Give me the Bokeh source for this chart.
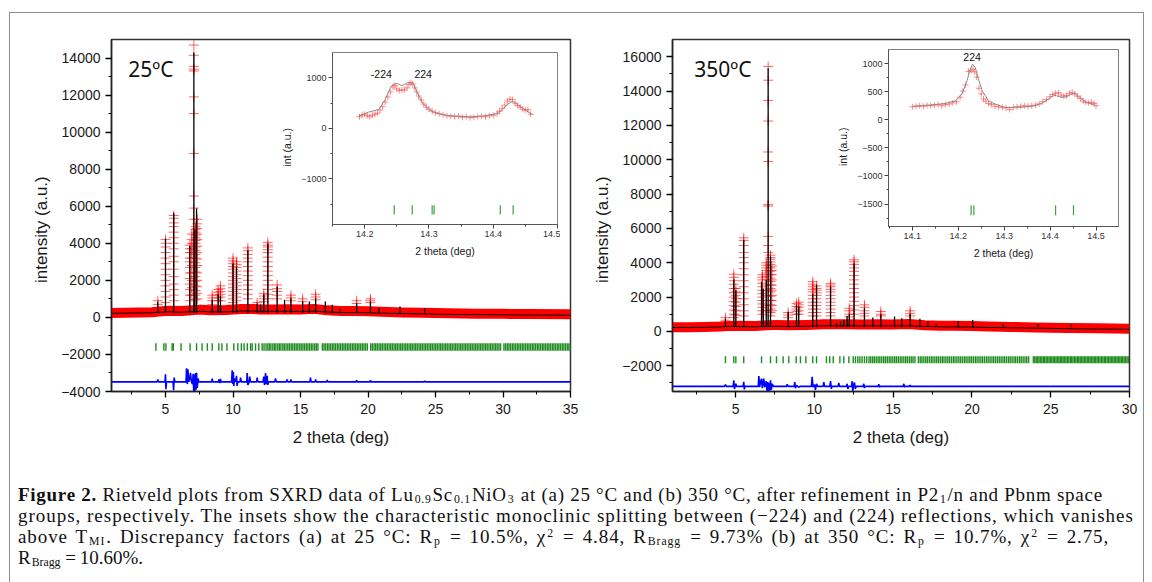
from bokeh.plotting import figure
from bokeh.models import Range1d, FixedTicker, Div, Row, Column
from bokeh.embed import file_html
from bokeh.resources import INLINE
from bokeh.core.properties import value

# ======================= panel (a) 25 ºC =======================
a_label = "25ºC"
a_bg_x = [1, 2, 3, 4, 4.5, 5.3, 6.2, 7.6, 8.3, 9.5, 10.6, 11.5, 12.0, 13.0, 14.0, 15.0, 16.0,
          17.0, 18.0, 19.0, 20.0, 21.0, 22.5, 24, 26, 28, 30, 32, 35]
a_calc_bg = [220, 230, 240, 250, 280, 300, 280, 330, 300, 300, 340, 340, 330, 330, 330, 320, 340,
             290, 260, 260, 250, 230, 210, 190, 160, 150, 140, 130, 120]
a_obs_bg = [240, 250, 260, 280, 320, 360, 340, 420, 380, 400, 450, 450, 430, 420, 440, 420, 460,
            380, 340, 340, 330, 300, 270, 250, 220, 200, 190, 180, 170]
# (position, calculated peak height)
a_peaks = [(4.43, 840), (5.00, 4260), (5.61, 5650), (6.80, 3850), (7.10, 14300), (7.16, 4730),
           (7.30, 5880), (8.46, 950), (8.90, 1250), (9.07, 1160), (10.00, 2910), (10.26, 2740),
           (11.10, 3630), (11.79, 750), (12.04, 700), (12.28, 1250), (12.58, 3990), (13.27, 1650),
           (13.82, 950), (14.29, 1040), (15.16, 860), (15.66, 860), (16.12, 1040), (16.84, 860),
           (17.36, 680), (17.93, 500), (19.16, 770), (20.18, 860), (20.80, 500), (22.37, 590),
           (24.20, 500)]
# observed points (crosses) read along the peaks
a_obs_peaks = [
    (4.43, [900, 700]),
    (5.00, [4200, 4000, 3800, 3500, 3200, 2900, 2600, 2300, 2000, 1700, 1400, 1100, 800]),
    (5.61, [5500, 5350, 5100, 4900, 4600, 4300, 4000, 3700, 3300, 3000, 2600, 2200, 1800, 1500,
            1200, 900]),
    (6.80, [3900, 3700, 3500, 3200, 3000, 2700, 2400, 2100, 1800, 1500, 1200, 900]),
    (6.95, [4500, 4200, 4000, 3700, 3500, 3200, 2800, 2400, 2000, 1600, 1200]),
    (7.10, [14700, 14150, 13550, 13400, 13300, 11900, 11000, 8850, 6550, 5900, 5300]),
    (7.22, [4900, 4750, 4600, 4450, 4300, 4150, 4000, 3800, 3600, 3400, 3200, 2950, 2700, 2450,
            2200, 1950, 1700, 1450, 1200, 950]),
    (7.35, [5300, 5050, 4800, 4500, 4200, 3850, 3500, 3150, 2800, 2400, 2000, 1650, 1300, 1000]),
    (8.46, [1200, 1050, 900, 700]),
    (8.90, [1500, 1350, 1200, 1050, 900]),
    (9.07, [1700, 1550, 1400, 1250, 1100, 900]),
    (10.00, [3200, 3050, 2900, 2750, 2600, 2400, 2200, 2000, 1800, 1600, 1400, 1200, 1000, 800]),
    (10.26, [3000, 2850, 2700, 2500, 2300, 2100, 1900, 1700, 1500, 1300, 1100, 900]),
    (11.10, [3750, 3600, 3400, 3200, 3000, 2750, 2500, 2250, 2000, 1750, 1500, 1250, 1000]),
    (11.79, [800, 650]),
    (12.28, [1300, 1150, 1000, 850]),
    (12.58, [4050, 3900, 3800, 3650, 3500, 3250, 3000, 2750, 2500, 2250, 2000, 1750, 1500, 1250,
             1000]),
    (13.27, [1750, 1550, 1400, 1200, 1000]),
    (14.29, [1200, 1050, 900]),
    (15.16, [1000, 850]),
    (16.12, [1250, 1100, 950]),
    (19.16, [900, 750]),
    (20.18, [1000, 900, 800]),
]
a_bragg = [4.29, 4.88, 5.03, 5.49, 5.58, 6.15, 6.82, 7.30, 7.71, 8.10, 8.46, 8.95, 9.18, 9.55,
           10.06, 10.36, 10.62, 10.82, 11.06, 11.30, 11.42, 11.67, 11.91, 12.16, 12.30,
           12.45, 12.58, 12.70, 12.81, 12.95, 13.07, 13.18, 13.32, 13.44, 13.55, 13.69, 13.80,
           13.93, 14.06, 14.18, 14.31, 14.43, 14.56, 14.68, 14.80, 14.93, 15.05, 15.18, 15.30,
           15.43, 15.55, 15.67, 15.80, 15.92, 16.05, 16.17, 16.29, 16.62, 16.74, 16.86, 16.99,
           17.11, 17.23, 17.36, 17.48, 17.60, 17.73, 17.85, 17.97, 18.10, 18.22, 18.34, 18.47,
           18.59, 18.71, 18.84, 18.96, 19.08, 19.21, 19.33, 19.45, 19.58, 19.70, 19.82, 19.95,
           20.20, 20.32, 20.45, 20.57, 20.69, 20.82, 20.94, 21.06, 21.19, 21.31, 21.43, 21.56,
           21.68, 21.80, 21.93, 22.05, 22.17, 22.30, 22.42, 22.54, 22.67, 22.79, 22.91, 23.04,
           23.16, 23.28, 23.41, 23.53, 23.65, 23.78, 23.90, 24.02, 24.15, 24.27, 24.39, 24.52,
           24.64, 24.76, 24.89, 25.01, 25.13, 25.26, 25.38, 25.50, 25.63, 25.75, 25.87, 26.00,
           26.12, 26.24, 26.37, 26.49, 26.61, 26.74, 26.86, 26.98, 27.11, 27.23, 27.35, 27.48,
           27.60, 27.72, 27.85, 27.97, 28.09, 28.22, 28.34, 28.46, 28.59, 28.71, 28.83, 28.96,
           29.08, 29.20, 29.33, 29.45, 29.57, 29.70, 29.82, 30.07, 30.19, 30.32, 30.44, 30.56,
           30.69, 30.81, 30.93, 31.06, 31.18, 31.30, 31.43, 31.55, 31.67, 31.80, 31.92, 32.04,
           32.17, 32.29, 32.41, 32.54, 32.66, 32.78, 32.91, 33.03, 33.15, 33.28, 33.40, 33.52,
           33.65, 33.77, 33.89, 34.02, 34.14, 34.26, 34.39, 34.51, 34.63, 34.76, 34.88, 34.99]
a_diff = [(1.0, -3480), (4.38, -3480), (4.43, -3350), (4.48, -3480), (4.96, -3480), (5.00, -3070),
          (5.03, -3880), (5.07, -3480), (5.56, -3480), (5.60, -3930), (5.64, -3250), (5.70, -3480),
          (6.52, -3480), (6.56, -2750), (6.62, -3600), (6.66, -2800), (6.72, -3480), (6.80, -3300),
          (6.85, -2990), (6.92, -3480), (7.00, -3600), (7.05, -3050), (7.09, -4000), (7.12, -3100),
          (7.17, -4000), (7.22, -3000), (7.27, -3900), (7.30, -2990), (7.35, -3800), (7.42, -3300),
          (7.47, -3480), (7.55, -3480), (8.42, -3480), (8.46, -3300), (8.50, -3480), (8.92, -3480),
          (8.95, -3350), (9.02, -3550), (9.07, -3320), (9.12, -3480), (9.90, -3480), (9.94, -2860),
          (9.98, -3600), (10.03, -2950), (10.06, -3700), (10.12, -3300), (10.22, -3480),
          (10.26, -3150), (10.30, -3700), (10.36, -3480), (10.52, -3480), (10.56, -3250),
          (10.62, -3480), (11.02, -3480), (11.05, -3010), (11.10, -3650), (11.20, -3480),
          (11.24, -3200), (11.30, -3480), (11.75, -3480), (11.79, -3250), (11.84, -3480),
          (12.22, -3480), (12.28, -3200), (12.33, -3650), (12.38, -3480), (12.41, -3010),
          (12.45, -3600), (12.50, -3480), (12.53, -3150), (12.57, -3650), (12.63, -3480),
          (13.10, -3480), (13.15, -3300), (13.20, -3480), (13.95, -3480), (14.00, -3350),
          (14.05, -3480), (14.25, -3480), (14.29, -3350), (14.33, -3480), (15.70, -3480),
          (15.74, -3250), (15.78, -3480), (16.08, -3480), (16.12, -3350), (16.16, -3480),
          (16.94, -3480), (16.98, -3380), (17.02, -3480), (19.12, -3480), (19.16, -3400),
          (19.20, -3480), (20.14, -3480), (20.18, -3400), (20.22, -3480), (24.16, -3480),
          (24.20, -3420), (24.24, -3480), (35.0, -3480)]

# ======================= panel (b) 350 ºC =======================
b_label = "350ºC"
b_bg_x = [1, 2, 3, 4, 4.5, 5.3, 6.2, 7.6, 8.3, 9.5, 10.6, 11.5, 12.0, 13.0, 14.0, 15.0, 16.0,
          17.0, 18.0, 19.0, 20.0, 21.0, 22.5, 24, 26, 28, 30]
b_calc_bg = [230, 230, 240, 260, 290, 280, 270, 300, 280, 300, 330, 330, 330, 320, 330, 320, 330,
             290, 270, 260, 250, 230, 210, 190, 160, 140, 120]
b_obs_bg = [240, 240, 250, 280, 320, 330, 320, 380, 360, 380, 420, 420, 420, 400, 420, 400, 430,
            360, 330, 330, 320, 290, 260, 230, 200, 180, 160]
b_peaks = [(4.36, 746), (4.89, 3020), (5.02, 2400), (5.52, 5340), (6.65, 2890), (6.76, 2500),
           (6.95, 3000), (7.07, 15330), (7.22, 4350), (8.34, 1137), (8.87, 1530), (9.01, 1450),
           (9.90, 2200), (10.14, 2700), (11.03, 2620), (11.41, 480), (11.66, 580), (11.87, 670),
           (12.08, 900), (12.22, 1020), (12.52, 3975), (13.18, 1350), (13.71, 810), (14.22, 1000),
           (15.09, 870), (15.55, 770), (16.08, 1020), (16.70, 730), (17.21, 580), (17.74, 450),
           (19.13, 610), (20.05, 670), (22.00, 450), (24.20, 430), (26.30, 400)]
b_obs_peaks = [
    (4.36, [800, 650]),
    (4.89, [3330, 3150, 2950, 2750, 2500, 2250, 2000, 1750, 1500, 1250, 1000, 800]),
    (5.02, [2500, 2300, 2100, 1900, 1700, 1450, 1200, 950]),
    (5.52, [5450, 5300, 5000, 4600, 4300, 4000, 3650, 3300, 2950, 2600, 2250, 1900, 1550, 1200,
            900]),
    (6.70, [3300, 3150, 3000, 2800, 2600, 2400, 2200, 2000, 1800, 1600, 1400, 1200, 1000]),
    (6.95, [4000, 3850, 3700, 3550, 3400, 3200, 3000, 2700, 2400, 2100, 1800, 1500, 1200]),
    (7.07, [15425, 14630, 13450, 12250, 10450, 9900, 7380, 7300, 5530, 5000, 4600]),
    (7.22, [4440, 4300, 4200, 4050, 3900, 3700, 3500, 3300, 3100, 2900, 2700, 2500, 2300, 2050,
            1800, 1550, 1300, 1100, 900]),
    (7.30, [3800, 3550, 3300, 3000, 2700, 2400, 2100, 1800, 1500, 1200]),
    (8.34, [1100, 950, 800]),
    (8.87, [1620, 1450, 1300, 1150, 1000]),
    (9.01, [1700, 1550, 1400, 1200, 1000]),
    (9.90, [2900, 2750, 2600, 2450, 2300, 2100, 1900, 1700, 1500, 1300, 1100, 900]),
    (10.14, [2650, 2500, 2400, 2250, 2100, 1900, 1700, 1500, 1300, 1100, 900]),
    (11.03, [2800, 2700, 2600, 2450, 2300, 2100, 1900, 1700, 1500, 1300, 1100, 900]),
    (12.22, [1350, 1200, 1000, 850]),
    (12.52, [4170, 4050, 3900, 3700, 3500, 3250, 3000, 2750, 2500, 2250, 2000, 1750, 1500, 1250,
             1000]),
    (13.18, [1545, 1400, 1200, 1050, 900]),
    (14.22, [1160, 1000, 900]),
    (16.08, [1200, 1050, 900]),
]
b_bragg = [4.36, 4.89, 5.02, 5.52, 6.65, 7.22, 7.60, 8.02, 8.38, 8.85, 9.12, 9.46, 9.90, 10.14,
           10.77, 10.98, 11.20, 11.62, 11.87, 12.19, 12.47, 12.61, 12.76, 12.89, 13.03, 13.18,
           13.32, 13.47, 13.58, 13.70, 13.81, 13.93, 14.05, 14.16, 14.28, 14.40, 14.51, 14.63,
           14.75, 14.86, 14.98, 15.10, 15.21, 15.33, 15.45, 15.56, 15.68, 15.80, 15.91, 16.03,
           16.15, 16.26, 16.38, 16.60, 16.72, 16.83, 16.95, 17.07, 17.18, 17.30, 17.42, 17.53,
           17.65, 17.77, 17.88, 18.00, 18.12, 18.23, 18.35, 18.47, 18.58, 18.70, 18.82, 18.93,
           19.05, 19.17, 19.28, 19.40, 19.52, 19.63, 19.75, 19.87, 19.98, 20.10, 20.22, 20.33,
           20.45, 20.57, 20.68, 20.80, 20.92, 21.03, 21.15, 21.27, 21.38, 21.50, 21.62, 21.73,
           21.85, 21.97, 22.08, 22.20, 22.32, 22.43, 22.55, 22.67, 22.78, 22.90, 23.02, 23.13,
           23.25, 23.37, 23.48, 23.60, 23.90, 23.99, 24.08, 24.17, 24.26, 24.35, 24.44, 24.53,
           24.62, 24.71, 24.80, 24.89, 24.98, 25.07, 25.16, 25.25, 25.34, 25.43, 25.52, 25.61,
           25.70, 25.79, 25.88, 25.97, 26.06, 26.15, 26.24, 26.33, 26.42, 26.51, 26.60, 26.69,
           26.78, 26.87, 26.96, 27.05, 27.14, 27.23, 27.32, 27.41, 27.50, 27.59, 27.68, 27.77,
           27.86, 27.95, 28.04, 28.13, 28.22, 28.31, 28.40, 28.49, 28.58, 28.67, 28.76, 28.85,
           28.94, 29.03, 29.12, 29.21, 29.30, 29.39, 29.48, 29.57, 29.66, 29.75, 29.84, 29.93]
b_diff = [(1.0, -3200), (4.30, -3200), (4.36, -3100), (4.42, -3200), (4.85, -3200), (4.89, -2850),
          (4.93, -3350), (4.98, -3200), (5.02, -3050), (5.06, -3200), (5.48, -3200), (5.52, -2940),
          (5.56, -3380), (5.60, -3200), (6.44, -3200), (6.48, -2600), (6.53, -3250), (6.60, -2900),
          (6.65, -2750), (6.70, -3300), (6.79, -2750), (6.85, -3250), (6.95, -2900), (7.00, -3500),
          (7.04, -2950), (7.07, -3500), (7.12, -3000), (7.18, -3450), (7.22, -2850), (7.27, -3400),
          (7.33, -3050), (7.40, -3200), (8.24, -3200), (8.28, -3080), (8.32, -3200), (8.72, -3200),
          (8.76, -2950), (8.80, -3300), (8.87, -3150), (9.01, -3250), (9.10, -3200), (9.82, -3200),
          (9.86, -2650), (9.92, -3250), (10.02, -3100), (10.07, -3400), (10.14, -3050),
          (10.20, -3200), (10.56, -3200), (10.60, -2950), (10.65, -3200), (10.98, -3200),
          (11.03, -2900), (11.08, -3350), (11.12, -3200), (11.51, -3200), (11.55, -3000),
          (11.60, -3200), (12.04, -3200), (12.08, -3050), (12.13, -3350), (12.18, -3200),
          (12.36, -3200), (12.40, -2900), (12.44, -3480), (12.50, -3100), (12.55, -2980),
          (12.60, -3350), (12.66, -3200), (13.10, -3200), (13.14, -3050), (13.18, -3300),
          (13.22, -3200), (14.05, -3200), (14.09, -3070), (14.13, -3250), (14.18, -3200),
          (15.64, -3200), (15.68, -3050), (15.72, -3250), (15.76, -3200), (16.04, -3200),
          (16.08, -3120), (16.12, -3200), (30.0, -3200)]

# ======================= insets =======================
ia_calc_x = [14.191, 14.206, 14.222, 14.232, 14.240, 14.245, 14.251, 14.258, 14.266, 14.271,
             14.276, 14.282, 14.290, 14.300, 14.310, 14.326, 14.342, 14.363, 14.383, 14.404,
             14.415, 14.422, 14.430, 14.438, 14.448, 14.461]
ia_calc_y = [242, 321, 374, 570, 799, 877, 885, 845, 897, 917, 877, 700, 504, 374, 307, 262, 242,
             229, 242, 288, 374, 472, 537, 472, 374, 276]
ia_obs = [(14.192, 230), (14.196, 260), (14.200, 280), (14.204, 250), (14.208, 230), (14.212, 260),
          (14.216, 280), (14.220, 300), (14.224, 360), (14.228, 430), (14.232, 520), (14.236, 620),
          (14.240, 720), (14.244, 820), (14.247, 850), (14.250, 780), (14.254, 750), (14.258, 760),
          (14.262, 760), (14.266, 800), (14.269, 870), (14.272, 900), (14.275, 880), (14.278, 800),
          (14.281, 720), (14.284, 640), (14.288, 560), (14.292, 480), (14.296, 420), (14.300, 380),
          (14.305, 340), (14.310, 310), (14.316, 290), (14.322, 270), (14.328, 250), (14.334, 240),
          (14.340, 230), (14.346, 240), (14.352, 220), (14.358, 230), (14.364, 210), (14.370, 220),
          (14.376, 230), (14.382, 240), (14.388, 230), (14.394, 250), (14.400, 260), (14.406, 290),
          (14.410, 340), (14.414, 400), (14.418, 460), (14.422, 540), (14.426, 580), (14.430, 570),
          (14.434, 500), (14.438, 450), (14.442, 420), (14.446, 380), (14.450, 360), (14.454, 370),
          (14.458, 280)]
ia_bragg = [14.246, 14.274, 14.305, 14.308, 14.411, 14.431]
ia_hkl = [("-224", 14.226, 1074), ("224", 14.291, 1074)]

ib_calc_x = [14.100, 14.136, 14.172, 14.194, 14.208, 14.219, 14.226, 14.231, 14.237, 14.244,
             14.252, 14.266, 14.280, 14.302, 14.331, 14.360, 14.381, 14.396, 14.407, 14.414,
             14.425, 14.436, 14.446, 14.454, 14.464, 14.479, 14.497]
ib_calc_y = [237, 260, 290, 337, 456, 693, 900, 989, 930, 722, 515, 337, 278, 219, 219, 237, 290,
             367, 438, 426, 397, 408, 456, 468, 397, 308, 260]
ib_obs = [(14.100, 230), (14.108, 240), (14.116, 250), (14.124, 240), (14.132, 255), (14.140, 250),
          (14.148, 260), (14.156, 270), (14.164, 250), (14.172, 270), (14.180, 280), (14.188, 300),
          (14.196, 320), (14.204, 400), (14.210, 510), (14.216, 620), (14.222, 860), (14.228, 870),
          (14.232, 900), (14.236, 850), (14.240, 760), (14.245, 560), (14.250, 460), (14.255, 370),
          (14.260, 330), (14.266, 290), (14.272, 270), (14.280, 240), (14.288, 230), (14.296, 220),
          (14.304, 210), (14.312, 180), (14.320, 220), (14.328, 230), (14.336, 240), (14.344, 250),
          (14.352, 240), (14.360, 250), (14.368, 260), (14.376, 280), (14.384, 320), (14.392, 360),
          (14.400, 410), (14.406, 450), (14.412, 470), (14.418, 480), (14.424, 440), (14.430, 420),
          (14.436, 430), (14.442, 470), (14.448, 490), (14.454, 460), (14.460, 420), (14.466, 380),
          (14.472, 330), (14.478, 310), (14.484, 300), (14.490, 310), (14.496, 290), (14.500, 250)]
ib_bragg = [14.228, 14.234, 14.412, 14.451]
ib_hkl = [("224", 14.230, 1120)]

# tick values
a_xticks = [5, 10, 15, 20, 25, 30, 35]
a_xminor = [2.5, 7.5, 12.5, 17.5, 22.5, 27.5, 32.5]
a_yticks = [-4000, -2000, 0, 2000, 4000, 6000, 8000, 10000, 12000, 14000]
a_yminor = [-3000, -1000, 1000, 3000, 5000, 7000, 9000, 11000, 13000]
b_xticks = [5, 10, 15, 20, 25, 30]
b_xminor = [2.5, 7.5, 12.5, 17.5, 22.5, 27.5]
b_yticks = [-2000, 0, 2000, 4000, 6000, 8000, 10000, 12000, 14000, 16000]
b_yminor = [-3000, -1000, 1000, 3000, 5000, 7000, 9000, 11000, 13000, 15000]
ia_xticks = [14.2, 14.3, 14.4, 14.5]
ia_xminor = [14.15, 14.25, 14.35, 14.45]
ia_yticks = [-1000, 0, 1000]
ia_yminor = [-1500, -500, 500]
ib_xticks = [14.1, 14.2, 14.3, 14.4, 14.5]
ib_xminor = [14.05, 14.15, 14.25, 14.35, 14.45, 14.55]
ib_yticks = [-1500, -1000, -500, 0, 500, 1000]
ib_yminor = [-1750, -1250, -750, -250, 250, 750]

SANS = "Liberation Sans"
NB = "\u00a0"
TOP_BORDER = 26      # frames in one Row share top / bottom borders
BOTTOM_BORDER = 64


def style_axes(p, xt, xm, yt, ym, tick_size, lab_size, major, minor):
    p.grid.visible = False
    p.xaxis.ticker = FixedTicker(ticks=xt, minor_ticks=xm)
    p.yaxis.ticker = FixedTicker(ticks=yt, minor_ticks=ym)
    for ax in (p.xaxis, p.yaxis):
        ax.major_tick_in = 0
        ax.minor_tick_in = 0
        ax.major_tick_out = major
        ax.minor_tick_out = minor
        ax.major_label_text_font = SANS
        ax.major_label_text_font_size = tick_size
        ax.major_label_text_color = "#1a1a1a"
        ax.axis_label_text_font = SANS
        ax.axis_label_text_font_size = lab_size
        ax.axis_label_text_font_style = "normal"
        ax.axis_label_text_color = "#1a1a1a"


def main_panel(xr, yr, width, mbl, mbr, label, lx, ly, bg_x, calc_bg, obs_bg, peaks, obs_peaks,
               bragg, bragg_lo, bragg_hi, diff, xt, xm, yt, ym, base):
    p = figure(width=width, height=TOP_BORDER + 352 + BOTTOM_BORDER, x_range=Range1d(*xr),
               y_range=Range1d(*yr), output_backend="svg", toolbar_location=None, title=None,
               min_border_left=mbl, min_border_right=mbr, min_border_top=TOP_BORDER,
               min_border_bottom=BOTTOM_BORDER, background_fill_color="white",
               border_fill_color="white")
    style_axes(p, xt, xm, yt, ym, "14px", "17px", 6, 3)
    p.outline_line_color = "#333333"
    p.outline_line_width = 1.5
    for ax in (p.xaxis, p.yaxis):
        ax.axis_line_width = 1.5
        ax.axis_line_color = "#222222"
        ax.major_tick_line_width = 1.3
    p.xaxis.axis_label = "2 theta (deg)"
    p.yaxis.axis_label = "intensity (a.u.)" + NB * 6
    p.xaxis.major_label_standoff = 6
    p.xaxis.axis_label_standoff = 11
    p.yaxis.major_label_standoff = 5
    p.yaxis.axis_label_standoff = 7

    cx = [x for x, hs in obs_peaks for h in hs]
    cy = [h for x, hs in obs_peaks for h in hs]
    px = [x for x, h in peaks]
    ph = [h for x, h in peaks]
    # observed: red band + red crosses
    p.line(bg_x, obs_bg, line_color="#ff0000", line_width=10, line_join="round")
    p.scatter(cx, cy, marker="cross", size=10, line_color="#ff0000", line_alpha=0.6,
              line_width=1)
    # calculated
    p.line(bg_x, calc_bg, line_color="black", line_width=1)
    p.segment(x0=px, y0=[base] * len(px), x1=px, y1=ph, line_color="black", line_width=1.3)
    # Bragg positions
    p.segment(x0=bragg, y0=[bragg_lo] * len(bragg), x1=bragg, y1=[bragg_hi] * len(bragg),
              line_color="#1e8c1e", line_width=1.4)
    # difference
    p.line([d[0] for d in diff], [d[1] for d in diff], line_color="#0000ff", line_width=1.6)
    p.text(x=[lx], y=[ly], text=[label], text_font=value("Noto Sans"), text_font_size="21px",
           text_baseline="middle", text_align="left", text_color="#111111")
    return p


def inset_panel(xr, yr, width, frame_h, calc_x, calc_y, obs, bragg, hkl, xt, xm, yt, ym):
    p = figure(width=width, height=TOP_BORDER + frame_h + BOTTOM_BORDER, x_range=Range1d(*xr),
               y_range=Range1d(*yr), output_backend="svg", toolbar_location=None, title=None,
               min_border_left=52, min_border_right=3, min_border_top=TOP_BORDER,
               min_border_bottom=BOTTOM_BORDER, background_fill_color="white",
               border_fill_color="white", border_fill_alpha=0)
    style_axes(p, xt, xm, yt, ym, "9px", "10.5px", 4, 2)
    p.outline_line_color = "#808080"
    p.outline_line_width = 1
    for ax in (p.xaxis, p.yaxis):
        ax.axis_line_color = "#555555"
        ax.major_tick_line_color = "#444444"
        ax.minor_tick_line_color = "#444444"
        ax.major_label_text_color = "#333333"
    p.xaxis.axis_label = "2 theta (deg)"
    p.yaxis.axis_label = "int (a.u.)" + NB * 6
    p.xaxis.major_label_standoff = 2
    p.xaxis.axis_label_standoff = 5
    p.yaxis.major_label_standoff = 2
    p.yaxis.axis_label_standoff = 5
    p.scatter([o[0] for o in obs], [o[1] for o in obs], marker="cross", size=6,
              line_color="#ff4040", line_alpha=0.6, line_width=1)
    p.line(calc_x, calc_y, line_color="#8c8c8c", line_width=1)
    p.segment(x0=bragg, y0=[-1700] * len(bragg), x1=bragg, y1=[-1520] * len(bragg),
              line_color="#3aa63a", line_width=1.2)
    p.text(x=[h[1] for h in hkl], y=[h[2] for h in hkl], text=[h[0] for h in hkl],
           text_font=value(SANS), text_font_size="10.5px", text_align="center",
           text_baseline="middle", text_color="#111111")
    return p


pa = main_panel((1, 35), (-4000, 15000), 570, 101, 10, a_label, 2.24, 13430, a_bg_x, a_calc_bg,
                a_obs_bg, a_peaks, a_obs_peaks, a_bragg, -1800, -1400, a_diff,
                a_xticks, a_xminor, a_yticks, a_yminor, 250)
pb = main_panel((1, 30), (-3500, 17000), 556, 87, 12, b_label, 2.38, 15310, b_bg_x, b_calc_bg,
                b_obs_bg, b_peaks, b_obs_peaks, b_bragg, -1850, -1450, b_diff,
                b_xticks, b_xminor, b_yticks, b_yminor, 260)

ia = inset_panel((14.15, 14.5), (-1900, 1500), 282, 172, ia_calc_x, ia_calc_y, ia_obs,
                 ia_bragg, ia_hkl, ia_xticks, ia_xminor, ia_yticks, ia_yminor)
ib = inset_panel((14.048, 14.549), (-1900, 1250), 287, 177, ib_calc_x, ib_calc_y, ib_obs,
                 ib_bragg, ib_hkl, ib_xticks, ib_xminor, ib_yticks, ib_yminor)

ia.margin = (13, 25, 0, -302)
ib.margin = (10, 0, 0, -307)

top = Row(children=[pa, ia, pb, ib], spacing=0)

SUB = '<sub style="font-size:62%;line-height:0;vertical-align:-2px;padding:0 1px">{}</sub>'
SUP = '<sup style="font-size:62%;line-height:0;vertical-align:6px;padding:0 1px">{}</sup>'
line1 = ('<b>Figure 2.</b> Rietveld plots from SXRD data of Lu' + SUB.format("0.9") + 'Sc'
         + SUB.format("0.1") + 'NiO' + SUB.format("3") + ' at (a) 25 °C and (b) 350 °C, after '
         'refinement in P2' + SUB.format("1") + '/n and Pbnm space')
line2 = ('groups, respectively. The insets show the characteristic monoclinic splitting between '
         '(−224) and (224) reflections, which vanishes')
line3 = ('above T' + SUB.format("MI") + '. Discrepancy factors (a) at 25 °C: R' + SUB.format("p")
         + ' = 10.5%, χ' + SUP.format("2") + ' = 4.84, R' + SUB.format("Bragg")
         + ' = 9.73% (b) at 350 °C: R' + SUB.format("p") + ' = 10.7%, χ' + SUP.format("2")
         + ' = 2.75,')
line4 = 'R' + SUB.format("Bragg") + ' = 10.60%.'
LINE = '<div style="letter-spacing:{}px; word-spacing:{}px">{}</div>'
caption_html = (
    '<div style="font-family:\'Liberation Serif\', serif; font-size:19px; line-height:21px; '
    'color:#111; white-space:nowrap;">'
    + LINE.format(0.72, 0, line1) + LINE.format(0.98, 0, line2)
    + LINE.format(0.9, 2.4, line3) + LINE.format(0, -1, line4)
    + '</div>'
)
caption = Div(text=caption_html, width=1125, height=90, margin=(29, 0, 30, 8))

page = Column(children=[top, caption], spacing=0, margin=(12, 0, 0, 9),
              styles={"border": "1px solid #8c8c8c"})

with open("out.html", "w") as f:
    f.write(file_html(page, INLINE))
